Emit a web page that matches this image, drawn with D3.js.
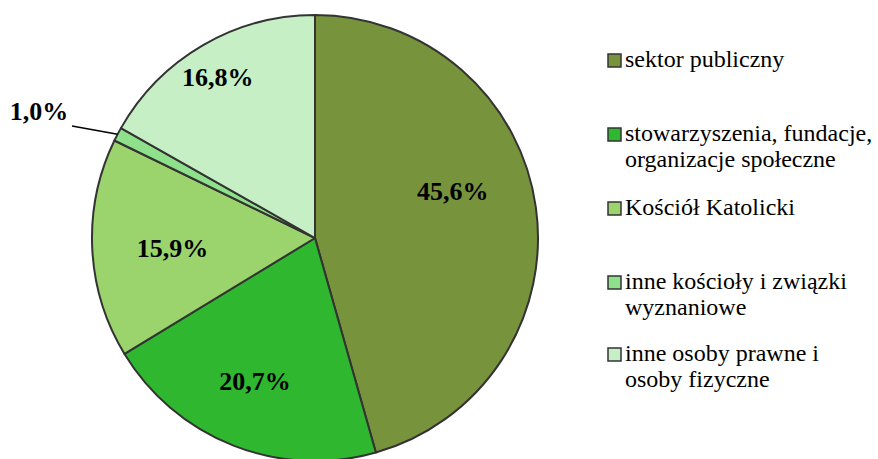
<!DOCTYPE html>
<html>
<head>
<meta charset="utf-8">
<script src="https://cdn.jsdelivr.net/npm/d3@7"></script>
<style>
  html, body { margin: 0; padding: 0; background: #fff; }
  svg { display: block; }
  text { font-family: "Liberation Serif", "Times New Roman", "DejaVu Serif", serif; }
</style>
</head>
<body>
<svg id="chart" width="878" height="459"></svg>
<script>
// Struktura podmiotów według formy własności
const categories = [
  "sektor publiczny",
  "stowarzyszenia, fundacje, organizacje społeczne",
  "Kościół Katolicki",
  "inne kościoły i związki wyznaniowe",
  "inne osoby prawne i osoby fizyczne"
];
const values = [45.6, 20.7, 15.9, 1.0, 16.8];
const valueLabels = ["45,6%", "20,7%", "15,9%", "1,0%", "16,8%"];
const legendLines = [
  ["sektor publiczny"],
  ["stowarzyszenia, fundacje,", "organizacje społeczne"],
  ["Kościół Katolicki"],
  ["inne kościoły i związki", "wyznaniowe"],
  ["inne osoby prawne i", "osoby fizyczne"]
];
const colors = ["#77933c", "#2fb82f", "#9bd46c", "#8ee08a", "#c6efc6"];

const svg = d3.select("#chart");
const cx = 315, cy = 238, R = 223;

const pie = d3.pie().sort(null).value(d => d)(values);
const arc = d3.arc().innerRadius(0).outerRadius(R);

const g = svg.append("g").attr("transform", `translate(${cx},${cy})`);

g.selectAll("path.slice")
  .data(pie)
  .join("path")
  .attr("class", "slice")
  .attr("d", arc)
  .attr("fill", (d, i) => colors[i])
  .attr("stroke", "#333")
  .attr("stroke-width", 2)
  .attr("stroke-linejoin", "round");

// label placement: radius fraction and small nudges per slice
const labelNudge = [[-8, -26], [-3, -2], [0, 4], [0, 0], [-3, 1]];
const labelRadius = [0.66, 0.7, 0.64, 1, 0.84];

pie.forEach((d, i) => {
  if (i === 3) return;
  const a = (d.startAngle + d.endAngle) / 2;
  const r = R * labelRadius[i];
  const x = Math.sin(a) * r + labelNudge[i][0];
  const y = -Math.cos(a) * r + labelNudge[i][1];
  g.append("text")
    .attr("x", x).attr("y", y)
    .attr("text-anchor", "middle")
    .attr("dominant-baseline", "central")
    .attr("font-weight", "bold")
    .attr("font-size", 26)
    .attr("fill", "#000")
    .text(valueLabels[i]);
});

// small slice: outside label with leader line
{
  const d = pie[3];
  const a = (d.startAngle + d.endAngle) / 2;
  const ex = Math.sin(a) * R, ey = -Math.cos(a) * R;
  g.append("line")
    .attr("x1", 72 - cx).attr("y1", 126 - cy)
    .attr("x2", ex).attr("y2", ey)
    .attr("stroke", "#000").attr("stroke-width", 1.5);
  g.append("text")
    .attr("x", 39 - cx).attr("y", 111 - cy)
    .attr("text-anchor", "middle")
    .attr("dominant-baseline", "central")
    .attr("font-weight", "bold")
    .attr("font-size", 26)
    .text(valueLabels[3]);
}

// legend: marker centres, text baselines follow
const legendCenter = [60.5, 134.5, 208.5, 282.5, 354.5];
const lg = svg.append("g");
categories.forEach((c, i) => {
  const y0 = legendCenter[i];
  lg.append("rect")
    .attr("x", 608).attr("y", y0 - 6.5).attr("width", 13).attr("height", 13)
    .attr("fill", colors[i]).attr("stroke", "#333").attr("stroke-width", 1.5);
  legendLines[i].forEach((t, j) => {
    lg.append("text")
      .attr("x", 625).attr("y", y0 + 6.5 + j * 26)
      .attr("font-size", 24)
      .attr("fill", "#000")
      .text(t);
  });
});
</script>
</body>
</html>
